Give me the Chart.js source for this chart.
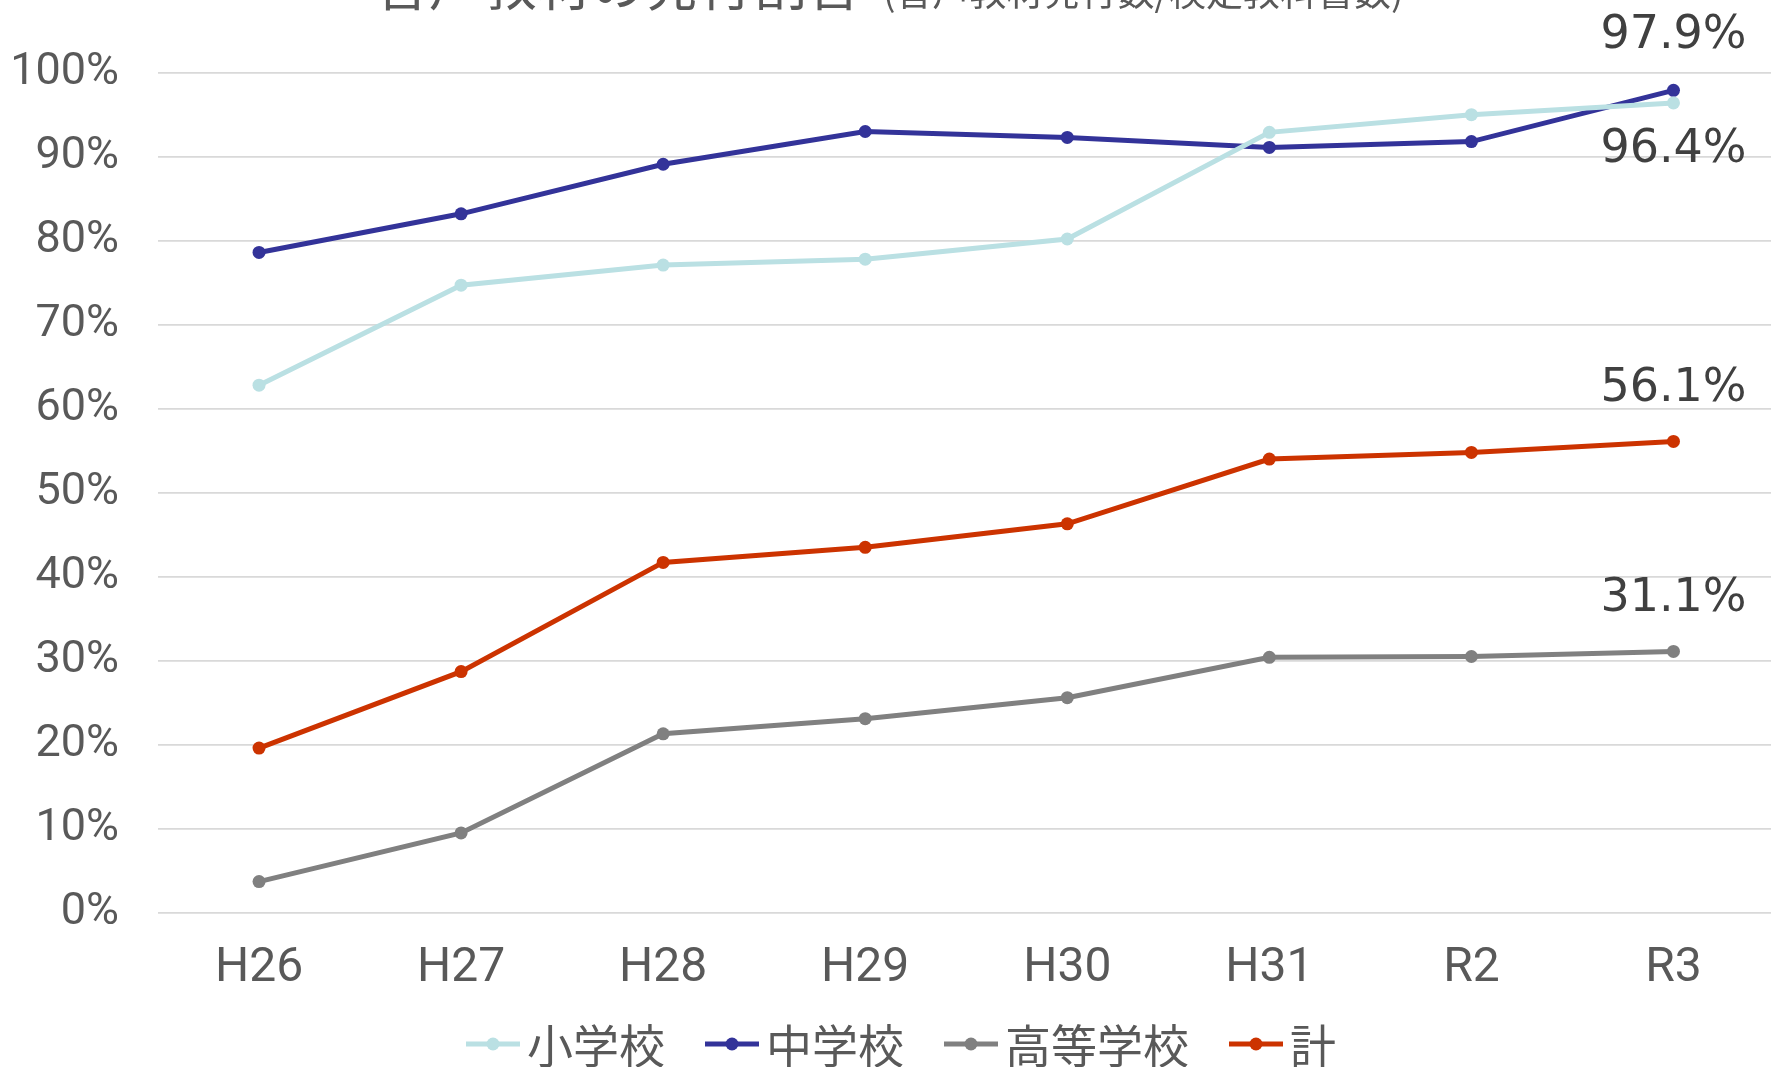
<!DOCTYPE html>
<html>
<head>
<meta charset="utf-8">
<script src="https://cdn.jsdelivr.net/npm/chart.js@4.4.1/dist/chart.umd.min.js"></script>
<style>
  html, body { margin: 0; padding: 0; background: #fff; overflow: hidden; }
  canvas { display: block; }
</style>
</head>
<body>
<canvas id="chart" width="1781" height="1067"></canvas>
<script>
// 年度
const categories = ['H26', 'H27', 'H28', 'H29', 'H30', 'H31', 'R2', 'R3'];
const seriesNames = ['小学校', '中学校', '高等学校', '計'];

// 発行割合 (%)
const elementary = [62.8, 74.7, 77.1, 77.8, 80.2, 92.9, 95.0, 96.4];
const juniorHigh = [78.6, 83.2, 89.1, 93.0, 92.3, 91.1, 91.8, 97.9];
const highSchool = [3.7, 9.5, 21.3, 23.1, 25.6, 30.4, 30.5, 31.1];
const total = [19.6, 28.7, 41.7, 43.5, 46.3, 54.0, 54.8, 56.1];

const yTicks = [0, 10, 20, 30, 40, 50, 60, 70, 80, 90, 100];

const colors = ['#bae0e3', '#333399', '#808080', '#cc3300'];
const lastLabelDy = [59, -42, -40, -40];

const titleMain = '音声教材の発行割合';
const titleSub = '(音声教材発行数/検定教科書数)';

const textGrey = '#595959';
const cjk = '"Noto Sans CJK JP", "Noto Sans", sans-serif';

function makeSet(i, data) {
  return {
    label: seriesNames[i],
    data: data,
    borderColor: colors[i],
    backgroundColor: colors[i],
    borderWidth: 5,
    pointRadius: 6.5,
    pointHoverRadius: 6.5,
    pointBorderWidth: 0,
    tension: 0,
    labelDy: lastLabelDy[i]
  };
}

const overlay = {
  id: 'overlay',
  afterDraw(chart) {
    const ctx = chart.ctx;
    ctx.save();

    // title (top cut off like the source)
    ctx.fillStyle = textGrey;
    ctx.textBaseline = 'alphabetic';
    ctx.textAlign = 'left';
    ctx.font = '54px ' + cjk;
    const wMain = ctx.measureText(titleMain).width;
    ctx.fillText(titleMain, 375, 6);
    ctx.font = '37px ' + cjk;
    ctx.fillText(titleSub, 375 + wMain + 22, 6);

    // value labels on the last point
    ctx.font = '46px "DejaVu Sans", sans-serif';
    ctx.fillStyle = '#404040';
    ctx.textAlign = 'center';
    chart.data.datasets.forEach((ds, i) => {
      const meta = chart.getDatasetMeta(i);
      const n = ds.data.length - 1;
      const pt = meta.data[n];
      ctx.fillText(ds.data[n].toFixed(1) + '%', pt.x, pt.y + ds.labelDy);
    });

    // legend
    ctx.font = '46px ' + cjk;
    ctx.textAlign = 'left';
    ctx.textBaseline = 'middle';
    const lineW = 54, gapText = 7, gapItem = 40;
    const widths = chart.data.datasets.map(ds => lineW + gapText + ctx.measureText(ds.label).width);
    const totalW = widths.reduce((a, b) => a + b, 0) + gapItem * (widths.length - 1);
    let lx = 901 - totalW / 2;
    const ly = 1044;
    chart.data.datasets.forEach((ds, i) => {
      ctx.strokeStyle = ds.borderColor;
      ctx.lineWidth = 5;
      ctx.beginPath();
      ctx.moveTo(lx, ly);
      ctx.lineTo(lx + lineW, ly);
      ctx.stroke();
      ctx.fillStyle = ds.borderColor;
      ctx.beginPath();
      ctx.arc(lx + lineW / 2, ly, 6.5, 0, Math.PI * 2);
      ctx.fill();
      ctx.fillStyle = textGrey;
      ctx.fillText(ds.label, lx + lineW + gapText, ly + 2);
      lx += widths[i] + gapItem;
    });

    ctx.restore();
  }
};

new Chart(document.getElementById('chart'), {
  type: 'line',
  data: {
    labels: categories,
    datasets: [
      makeSet(0, elementary),
      makeSet(1, juniorHigh),
      makeSet(2, highSchool),
      makeSet(3, total)
    ]
  },
  options: {
    responsive: false,
    animation: false,
    layout: { padding: { top: 72.7, right: 0, bottom: 0, left: 0 } },
    plugins: {
      legend: { display: false },
      title: { display: false },
      tooltip: { enabled: false }
    },
    scales: {
      x: {
        offset: true,
        grid: { display: false, drawTicks: false },
        border: { display: false },
        ticks: {
          color: textGrey,
          font: { family: 'Roboto', size: 48 },
          padding: 27,
          maxRotation: 0
        },
        afterFit(scale) { scale.height = 154.3; }
      },
      y: {
        min: 0,
        max: 100,
        afterBuildTicks(scale) { scale.ticks = yTicks.map(v => ({ value: v })); },
        grid: { color: '#d9d9d9', lineWidth: 1.7, drawTicks: false },
        border: { display: false },
        ticks: {
          color: textGrey,
          font: { family: 'Roboto', size: 45 },
          padding: 39,
          callback: v => v + '%'
        },
        afterFit(scale) { scale.width = 158; }
      }
    }
  },
  plugins: [overlay]
});
</script>
</body>
</html>
